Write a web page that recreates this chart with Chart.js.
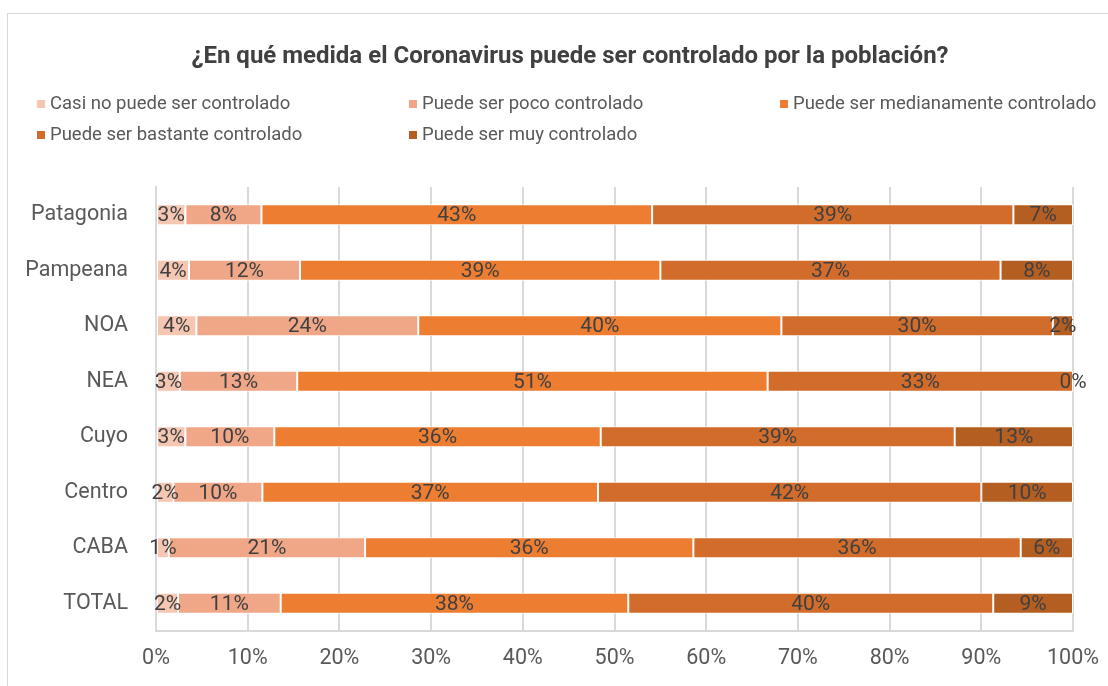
<!DOCTYPE html>
<html><head><meta charset="utf-8">
<script src="https://cdn.jsdelivr.net/npm/chart.js@4/dist/chart.umd.min.js"></script>
<style>
html,body{margin:0;padding:0;background:#fff;overflow:hidden;width:1108px;height:686px;}
#frame{position:absolute;left:7px;top:13px;width:1140px;height:700px;border:1px solid #d9d9d9;box-sizing:border-box;}
#wrap{position:absolute;left:0;top:0;width:1108px;height:686px;}
</style></head><body>
<div id="frame"></div>
<div id="wrap"><canvas id="c" width="1108" height="686"></canvas></div>
<script>
const categories = ['Patagonia','Pampeana','NOA','NEA','Cuyo','Centro','CABA','TOTAL'];
const seriesNames = ['Casi no puede ser controlado','Puede ser poco controlado','Puede ser medianamente controlado','Puede ser bastante controlado','Puede ser muy controlado'];
const casiNo        = [3.2, 3.6, 4.4, 2.6, 3.2, 1.9, 1.4, 2.4];
const poco          = [8.3, 12.1, 24.2, 12.8, 9.7, 9.7, 21.4, 11.2];
const medianamente  = [42.6, 39.3, 39.6, 51.3, 35.6, 36.6, 35.8, 37.9];
const bastante      = [39.4, 37.1, 29.6, 33.3, 38.6, 41.8, 35.7, 39.8];
const muy           = [6.5, 7.9, 2.2, 0, 12.9, 10.0, 5.7, 8.7];
const xTicks = [0,10,20,30,40,50,60,70,80,90,100];
const titleText = '¿En qué medida el Coronavirus puede ser controlado por la población?';
const colors = ['#F5C6B2','#F0A788','#ED7D31','#D26C2B','#B45E22'];

const seriesData = [casiNo, poco, medianamente, bastante, muy];

const valueLabels = {
  id: 'valueLabels',
  afterDatasetsDraw(chart) {
    const ctx = chart.ctx;
    ctx.save();
    ctx.font = '21px Roboto';
    ctx.fillStyle = '#404040';
    ctx.textAlign = 'center';
    ctx.textBaseline = 'middle';
    chart.data.datasets.forEach((ds, i) => {
      const meta = chart.getDatasetMeta(i);
      meta.data.forEach((el, j) => {
        const p = el.getProps(['x','y','base'], true);
        ctx.fillText(Math.round(ds.data[j]) + '%', (p.x + p.base) / 2, p.y + 1);
      });
    });
    ctx.restore();
  }
};

const headerPlugin = {
  id: 'header',
  afterDraw(chart) {
    const ctx = chart.ctx;
    ctx.save();
    ctx.textBaseline = 'middle';
    ctx.textAlign = 'center';
    ctx.fillStyle = '#404040';
    ctx.font = 'bold 24px Roboto';
    ctx.fillText(titleText, 570, 57);
    ctx.font = '18.5px Roboto';
    ctx.textAlign = 'left';
    const colX = [37, 409, 780];
    const rowY = [104, 135];
    chart.data.datasets.forEach((ds, i) => {
      const x = colX[i % 3], y = rowY[Math.floor(i / 3)];
      ctx.fillStyle = ds.backgroundColor;
      ctx.fillRect(x, y - 4, 8, 8);
      ctx.fillStyle = '#595959';
      ctx.fillText(ds.label, x + 13, y);
    });
    ctx.restore();
  }
};

new Chart(document.getElementById('c'), {
  type: 'bar',
  data: {
    labels: categories,
    datasets: seriesNames.map((n, i) => ({
      label: n,
      data: seriesData[i],
      backgroundColor: colors[i],
      borderColor: '#ffffff',
      borderWidth: 1,
      borderSkipped: false,
      categoryPercentage: 1,
      barPercentage: 0.38
    }))
  },
  options: {
    indexAxis: 'y',
    responsive: false,
    animation: false,
    devicePixelRatio: 1,
    layout: { padding: { left: 0, right: 35, top: 187, bottom: 0 } },
    plugins: {
      legend: { display: false },
      tooltip: { enabled: false },
      title: { display: false }
    },
    scales: {
      x: {
        stacked: true,
        min: 0, max: 100,
        afterBuildTicks: s => { s.ticks = xTicks.map(v => ({ value: v })); },
        afterFit: s => { s.height = 55; s.paddingLeft = 0; s.paddingRight = 0; },
        grid: { color: '#d9d9d9', lineWidth: 2, drawTicks: false },
        border: { display: true, color: '#d9d9d9', width: 2 },
        ticks: { color: '#595959', font: { family: 'Roboto', size: 21.5 }, padding: 15, callback: v => v + '%' }
      },
      y: {
        stacked: true,
        afterFit: s => { s.width = 156; },
        grid: { display: false, drawTicks: false },
        border: { display: true, color: '#d9d9d9', width: 2 },
        ticks: { color: '#595959', font: { family: 'Roboto', size: 21.5 }, padding: 28 }
      }
    }
  },
  plugins: [valueLabels, headerPlugin]
});
</script>
</body></html>
